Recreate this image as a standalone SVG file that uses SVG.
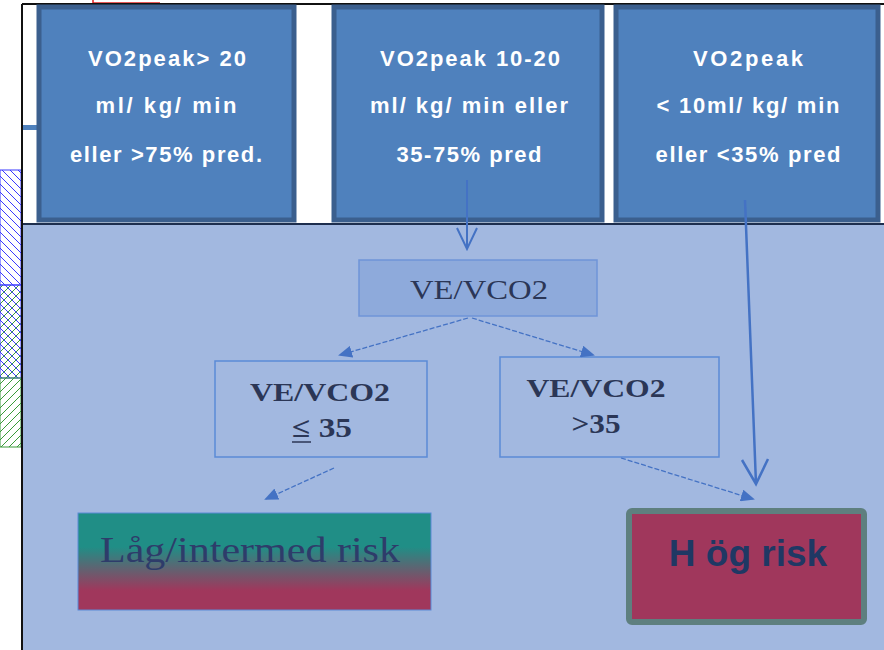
<svg xmlns="http://www.w3.org/2000/svg" width="884" height="650" viewBox="0 0 884 650">
<defs>
<style>
.vo{fill:#4f81bd;stroke:#3b5f8e;stroke-width:5}
.wt{font-family:"Liberation Sans",Arial,sans-serif;font-size:22px;font-weight:bold;fill:#ffffff;text-anchor:middle}
.sr{font-family:"Liberation Serif","Times New Roman",serif;fill:#2b3656;text-anchor:middle}
.ln{stroke:#4472c4;fill:none}
.dl{stroke:#4472c4;stroke-width:1.3;stroke-dasharray:5 2;fill:none}
</style>
<pattern id="hb" width="8" height="8" patternUnits="userSpaceOnUse"><path d="M0,0 L8,8 M-4,4 L4,12 M4,-4 L12,4" stroke="#3a3aff" stroke-width="1"/></pattern>
<pattern id="hg" width="8" height="8" patternUnits="userSpaceOnUse"><path d="M0,8 L8,0 M-4,4 L4,-4 M4,12 L12,4" stroke="#3a9a3a" stroke-width="1"/></pattern>
<linearGradient id="gr" x1="0" y1="0" x2="0" y2="1">
<stop offset="0" stop-color="#208e86"/><stop offset="0.35" stop-color="#208e86"/><stop offset="0.8" stop-color="#a0375c"/><stop offset="1" stop-color="#a0375c"/>
</linearGradient>
<marker id="tri" markerWidth="14" markerHeight="12" refX="12" refY="6" orient="auto" markerUnits="userSpaceOnUse"><path d="M0,0 L14,6 L0,12 Z" fill="#4472c4"/></marker>
</defs>
<rect width="884" height="650" fill="#ffffff"/>
<g id="hatch">
<rect x="0" y="170" width="21" height="115" fill="url(#hb)" stroke="#3a3aff" stroke-width="1"/>
<rect x="0" y="285" width="21" height="93" fill="url(#hb)"/>
<rect x="0" y="285" width="21" height="93" fill="url(#hg)" stroke="#3a3aff" stroke-width="1"/>
<rect x="0" y="378" width="21" height="69" fill="url(#hg)" stroke="#3a9a3a" stroke-width="1"/>
</g>
<path d="M93,0 V3 H160" stroke="#e02020" stroke-width="1.5" fill="none"/>
<g id="panel">
<rect x="22" y="224" width="866" height="430" fill="#a2b8e0" stroke="#1d2e4e" stroke-width="2"/>
</g>
<line x1="22" y1="4" x2="884" y2="4" stroke="#111" stroke-width="2"/>
<line x1="22" y1="4" x2="22" y2="650" stroke="#111" stroke-width="2"/>
<rect x="23" y="125" width="17" height="5" fill="#4f81bd"/>
<g id="n1">
<rect class="vo" x="39" y="7" width="255" height="213"/>
<text class="wt" x="167" y="66" textLength="158" lengthAdjust="spacing">VO2peak&gt; 20</text>
<text class="wt" x="166" y="113" textLength="141" lengthAdjust="spacing">ml/ kg/ min</text>
<text class="wt" x="166" y="162" textLength="192" lengthAdjust="spacing">eller &gt;75%  pred.</text>
</g>
<g id="n2">
<rect class="vo" x="334" y="7" width="268" height="213"/>
<text class="wt" x="470" y="66" textLength="180" lengthAdjust="spacing">VO2peak 10-20</text>
<text class="wt" x="469" y="113" textLength="198" lengthAdjust="spacing">ml/ kg/ min eller</text>
<text class="wt" x="469" y="162" textLength="145" lengthAdjust="spacing">35-75%  pred</text>
</g>
<g id="n3">
<rect class="vo" x="616" y="7" width="262" height="213"/>
<text class="wt" x="748" y="66" textLength="110" lengthAdjust="spacing">VO2peak</text>
<text class="wt" x="748" y="113" textLength="183" lengthAdjust="spacing">&lt; 10ml/ kg/ min</text>
<text class="wt" x="748" y="162" textLength="185" lengthAdjust="spacing">eller &lt;35%  pred</text>
</g>
<g id="n4">
<rect x="359" y="260" width="238" height="56" fill="#8eaadb" stroke="#6f94d8" stroke-width="1.5"/>
<text class="sr" x="479" y="299" font-size="28" textLength="138" lengthAdjust="spacingAndGlyphs">VE/VCO2</text>
</g>
<g id="n5">
<rect x="215" y="361" width="212" height="96" fill="none" stroke="#5b8ad6" stroke-width="1.5"/>
<text class="sr" x="320" y="401" font-size="26" font-weight="bold" textLength="140" lengthAdjust="spacingAndGlyphs">VE/VCO2</text>
<text class="sr" x="322" y="437" font-size="28" font-weight="bold" textLength="60" lengthAdjust="spacingAndGlyphs">≤ 35</text>
<line x1="292" y1="442" x2="311" y2="442" stroke="#2b3656" stroke-width="1.5"/>
</g>
<g id="n6">
<rect x="500" y="357" width="219" height="100" fill="none" stroke="#5b8ad6" stroke-width="1.5"/>
<text class="sr" x="596" y="397" font-size="26" font-weight="bold" textLength="139" lengthAdjust="spacingAndGlyphs">VE/VCO2</text>
<text class="sr" x="596" y="433" font-size="28" font-weight="bold" textLength="49" lengthAdjust="spacingAndGlyphs">&gt;35</text>
</g>
<g id="n7">
<rect x="78" y="513" width="353" height="97" fill="url(#gr)" stroke="#5b8ad6" stroke-width="1"/>
<text x="250" y="562" font-family="'Liberation Serif','Times New Roman',serif" font-size="35" fill="#2e3c6a" text-anchor="middle" textLength="300" lengthAdjust="spacingAndGlyphs">Låg/intermed risk</text>
</g>
<g id="n8">
<rect x="629" y="511" width="235" height="111" rx="3" fill="#a0375c" stroke="#5e7f7f" stroke-width="6"/>
<text x="748" y="566" font-family="'Liberation Sans',Arial,sans-serif" font-size="37" font-weight="bold" fill="#1f3864" text-anchor="middle">H ög risk</text>
</g>
<g id="connectors">
<path class="ln" stroke-width="2" d="M467,180 V249 M457,228 L467,249 L477,228"/>
<path class="ln" stroke-width="2.5" d="M745,200 L756,484 M742,460 L756,484 L768,459"/>
<path class="dl" d="M468,318 L340,355" marker-end="url(#tri)"/>
<path class="dl" d="M472,318 L593,355" marker-end="url(#tri)"/>
<path class="dl" d="M334,468 L266,499" marker-end="url(#tri)"/>
<path class="dl" d="M621,458 L753,499" marker-end="url(#tri)"/>
</g>
</svg>
